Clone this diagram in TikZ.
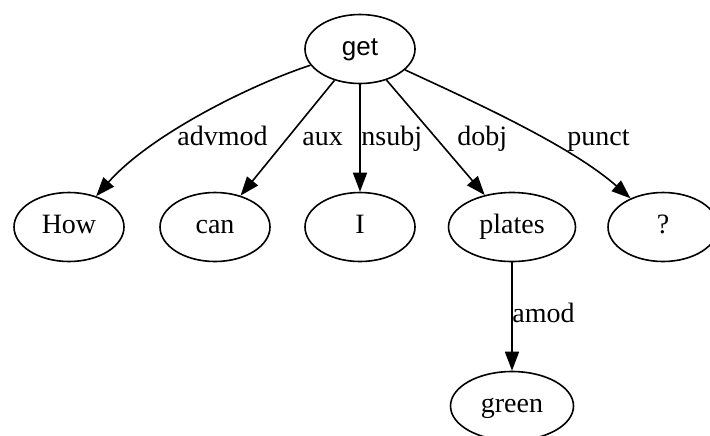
\documentclass[tikz,border=0pt]{standalone}
\usepackage{fontspec}
\setmainfont{Liberation Serif}
\newfontfamily\getfont{Liberation Sans}
\usetikzlibrary{arrows.meta,shapes.geometric}
\begin{document}
\begin{tikzpicture}[x=0.5pt,y=-0.5pt,
  word/.style={draw, ellipse, line width=0.8pt, inner sep=0pt,
    minimum width=55pt, minimum height=34.5pt, text height=9.5pt, text depth=3pt,
    font=\fontsize{14}{16}\selectfont},
  dep/.style={draw, line width=0.8pt, -{Triangle[length=9.5pt,width=7pt]}},
  lbl/.style={anchor=base west, inner sep=0pt, font=\fontsize{14}{16}\selectfont}]
\useasboundingbox[fill=white] (0,0) rectangle (710,435);
\node[word, font=\getfont\fontsize{13}{15}\selectfont] (get) at (360,49) {get};
\node[word] (how) at (69,227) {How};
\node[word] (can) at (215,227) {can};
\node[word] (i) at (360,227) {I};
\node[word, minimum width=63.5pt] (plates) at (512,227) {plates};
\node[word] (q) at (663,227) {?};
\node[word, minimum width=61.5pt] (green) at (512,406) {green};
\draw[dep] (get) .. controls (250,85) and (150,135) .. (how);
\draw[dep] (get) -- (can);
\draw[dep] (get) -- (i);
\draw[dep] (get) -- (plates);
\draw[dep] (get) .. controls (470,100) and (570,145) .. (q);
\draw[dep] (plates) -- (green);
\node[lbl] (ladvmod) at (177,145) {advmod};
\node[lbl] (laux) at (302,145) {aux};
\node[lbl] (lnsubj) at (361,145) {nsubj};
\node[lbl] (ldobj) at (457,145) {dobj};
\node[lbl] (lpunct) at (567,145) {punct};
\node[lbl] (lamod) at (512,322) {amod};
\end{tikzpicture}
\end{document}
